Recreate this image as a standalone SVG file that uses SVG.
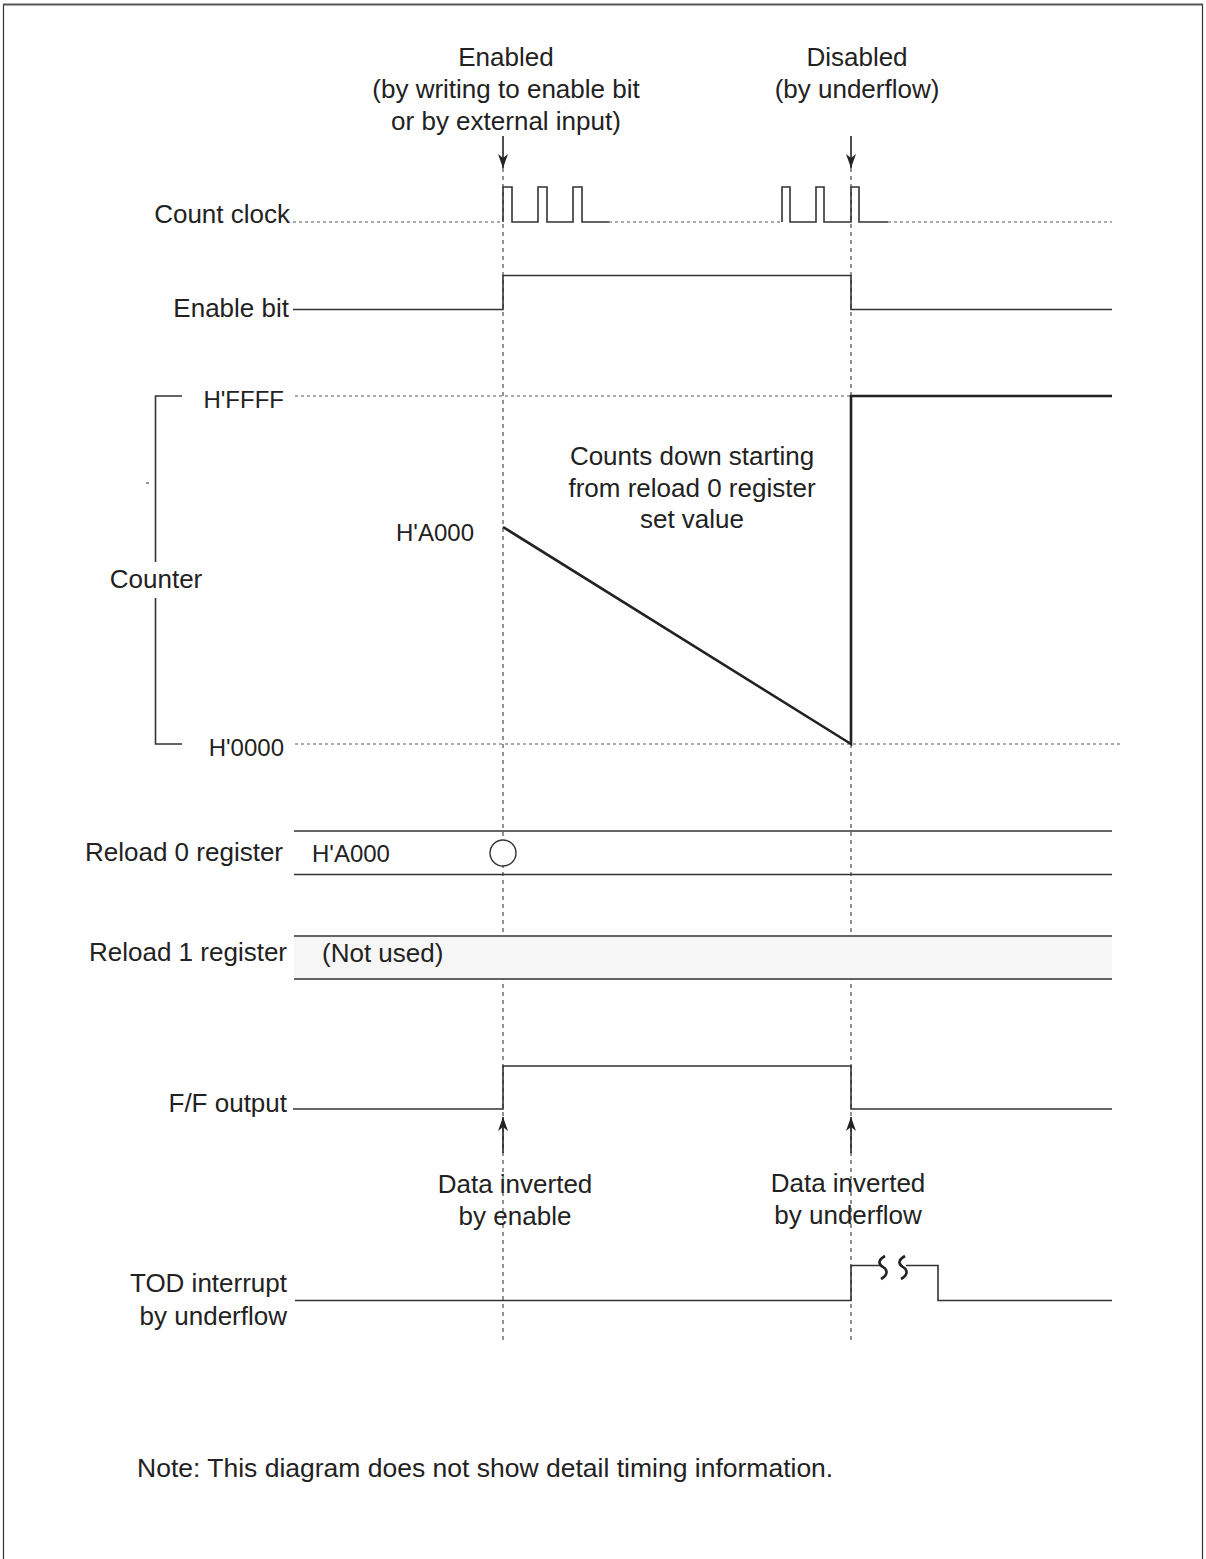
<svg xmlns="http://www.w3.org/2000/svg" width="1206" height="1559" viewBox="0 0 1206 1559">
<style>
text{font-family:"Liberation Sans",Arial,sans-serif;font-size:26px;fill:#222}
.hex{font-size:24px}
.end{text-anchor:end}
.mid{text-anchor:middle}
.sig{fill:none;stroke:#333;stroke-width:1.6}
.thick{fill:none;stroke:#222;stroke-width:2.6}
.dash{fill:none;stroke:#555;stroke-width:1.2;stroke-dasharray:3 3}
.vdash{fill:none;stroke:#666;stroke-width:1.4;stroke-dasharray:4 4}
.arr{fill:none;stroke:#222;stroke-width:1.6}
</style>
<defs>
<marker id="ah" viewBox="0 0 14 10" refX="14" refY="5" markerWidth="15" markerHeight="10" markerUnits="userSpaceOnUse" orient="auto">
<path d="M0,0 L14,5 L0,10 L4,5 z" fill="#222"/>
</marker>
</defs>
<rect x="0" y="0" width="1206" height="1559" fill="#fff"/>
<g id="border">
<path d="M3.5,1570 V4.5 H1202.5 V1570" fill="none" stroke="#333" stroke-width="1.2"/>
<line x1="3" y1="4.5" x2="1203" y2="4.5" stroke="#555" stroke-width="2"/>
</g>
<g id="connectors">
<line class="vdash" x1="503" y1="168" x2="503" y2="1340"/>
<line class="vdash" x1="851" y1="168" x2="851" y2="1340"/>
<line class="arr" x1="503" y1="136" x2="503" y2="168" marker-end="url(#ah)"/>
<line class="arr" x1="851" y1="136" x2="851" y2="168" marker-end="url(#ah)"/>
<line class="arr" x1="503" y1="1153" x2="503" y2="1117" marker-end="url(#ah)"/>
<line class="arr" x1="851" y1="1153" x2="851" y2="1117" marker-end="url(#ah)"/>
</g>
<g id="top-labels">
<text class="mid" x="506" y="66">Enabled</text>
<text class="mid" x="506" y="98">(by writing to enable bit</text>
<text class="mid" x="506" y="130">or by external input)</text>
<text class="mid" x="857" y="66">Disabled</text>
<text class="mid" x="857" y="98">(by underflow)</text>
</g>
<g id="count-clock">
<text class="end" x="290" y="223">Count clock</text>
<line class="dash" x1="293" y1="222" x2="503" y2="222"/>
<path class="sig" d="M503,222 V187 H512 V222 H538 V187 H547 V222 H573 V187 H582 V222 H609"/>
<line class="dash" x1="609" y1="222" x2="782" y2="222"/>
<path class="sig" d="M782,222 V187 H790 V222 H816 V187 H824 V222 H851 V187 H859 V222 H888"/>
<line class="dash" x1="888" y1="222" x2="1112" y2="222"/>
</g>
<g id="enable-bit">
<text class="end" x="289" y="317">Enable bit</text>
<path class="sig" d="M293,309.5 H503 V275.5 H851 V309.5 H1112"/>
</g>
<g id="counter">
<text class="mid" x="156" y="588">Counter</text>
<path class="sig" d="M182,396 H155.5 V562 M155.5,598 V744 H182" stroke-width="1.4"/>
<line x1="146" y1="483" x2="149" y2="483" stroke="#333" stroke-width="1"/>
<text class="hex end" x="284" y="408">H'FFFF</text>
<text class="hex end" x="284" y="756">H'0000</text>
<text class="hex end" x="474" y="541">H'A000</text>
<line class="dash" x1="295" y1="396" x2="851" y2="396"/>
<line class="dash" x1="295" y1="744" x2="1120" y2="744"/>
<path class="thick" d="M503,527 L851,744 V396 H1112" stroke-linejoin="miter"/>
<text class="mid" x="692" y="465">Counts down starting</text>
<text class="mid" x="692" y="497">from reload 0 register</text>
<text class="mid" x="692" y="528">set value</text>
</g>
<g id="reload0">
<text class="end" x="283" y="861">Reload 0 register</text>
<line class="sig" x1="294" y1="831" x2="1112" y2="831"/>
<line class="sig" x1="294" y1="874.5" x2="1112" y2="874.5"/>
<text class="hex" x="312" y="862">H'A000</text>
<circle cx="503" cy="853" r="13" fill="#fff" stroke="#333" stroke-width="1.4"/>
</g>
<g id="reload1">
<text class="end" x="287" y="961">Reload 1 register</text>
<rect x="294" y="936" width="818" height="43" fill="#f6f6f6"/>
<line class="sig" x1="294" y1="936" x2="1112" y2="936"/>
<line class="sig" x1="294" y1="979" x2="1112" y2="979"/>
<text x="322" y="962">(Not used)</text>
</g>
<g id="ff-output">
<text class="end" x="287" y="1112">F/F output</text>
<path class="sig" d="M293,1109 H503 V1066 H851 V1109 H1112"/>
<text class="mid" x="515" y="1193">Data inverted</text>
<text class="mid" x="515" y="1225">by enable</text>
<text class="mid" x="848" y="1192">Data inverted</text>
<text class="mid" x="848" y="1224">by underflow</text>
</g>
<g id="tod">
<text class="end" x="287" y="1292">TOD interrupt</text>
<text class="end" x="287" y="1325">by underflow</text>
<path class="sig" d="M295,1300.5 H851 V1265.5 H880 M906,1265.5 H938 V1300.5 H1112"/>
<path d="M885,1256 C878,1260 878,1264 883,1267 C888,1270 888,1275 881,1279" fill="none" stroke="#222" stroke-width="2.6"/>
<path d="M905,1256 C898,1260 898,1264 903,1267 C908,1270 908,1275 901,1279" fill="none" stroke="#222" stroke-width="2.6"/>
</g>
<g id="note">
<text x="137" y="1477" style="font-size:26.5px">Note: This diagram does not show detail timing information.</text>
</g>
</svg>
